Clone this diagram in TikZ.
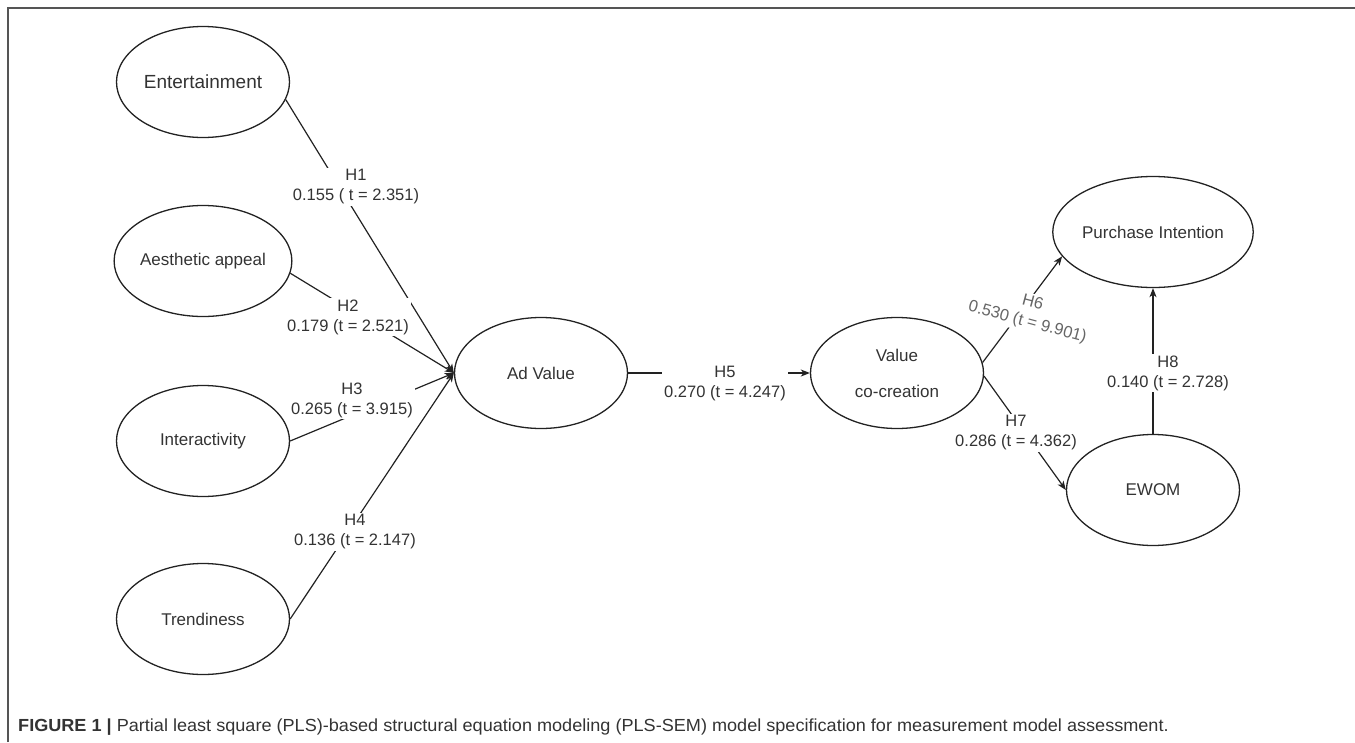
\documentclass[tikz,border=0pt]{standalone}
\usepackage{fontspec}
\setmainfont{Liberation Sans}
\usetikzlibrary{shapes.geometric,arrows.meta}
\definecolor{txt}{HTML}{333333}
\definecolor{ln}{HTML}{222222}
\definecolor{frame}{HTML}{555555}
\pgfdeclarelayer{bg}
\pgfsetlayers{bg,main}
\tikzset{
  construct/.style={ellipse, draw=ln, line width=1.3pt, minimum width=173pt, minimum height=111pt, inner sep=0pt, text=txt, font=\fontsize{17}{20}\selectfont},
  path/.style={draw=ln, line width=1.2pt},
  arr/.style={path, -{Stealth[length=9pt,width=7pt,inset=2.5pt]}},
  lab/.style={fill=white, align=center, inner sep=2pt, text=txt, font=\fontsize{16.5}{20}\selectfont},
}
\begin{document}
\begin{tikzpicture}[x=1pt,y=-1pt]
\useasboundingbox (0,0) rectangle (1355,742);
% frame
\draw[frame, line width=1.5pt] (8,742) -- (8,8) -- (1355,8);
% constructs
\node[construct, font=\fontsize{19}{22}\selectfont] (ent) at (203,82) {Entertainment};
\node[construct] (aes) at (203,261) {Aesthetic appeal};
\node[construct] (int) at (203,441) {Interactivity};
\node[construct] (tre) at (203,619) {Trendiness};
\node[construct] (adv) at (541,373) {Ad Value};
\node[construct, align=center, font=\fontsize{17}{36}\selectfont] (vcc) at (897,373) {Value\\co-creation};
\node[construct] (pi) at (1153,232) {Purchase Intention};
\node[construct] (ewom) at (1153,490) {EWOM};
\begin{pgfonlayer}{bg}
% paths
\draw[arr] (ent.-12) -- (adv.west);
\draw[arr] (aes.-8) -- (adv.west);
\draw[arr] (int.east) -- (adv.west);
\draw[arr] (tre.east) -- (adv.west);
\draw[arr] (adv.east) -- (vcc.west);
\draw[arr] (vcc.7) -- (pi.-165);
\draw[arr] (vcc.-2) -- (ewom.west);
\draw[arr] (ewom.north) -- (pi.south);
% labels
\node[lab] (l1) at (356,187) {H1\\0.155 ( t = 2.351)};
\node[lab] (l2) at (348,317) {H2\\0.179 (t = 2.521)};
\node[lab] (l3) at (352,400) {H3\\0.265 (t = 3.915)};
\node[lab] (l4) at (355,532) {H4\\0.136 (t = 2.147)};
\node[lab] (l5) at (725,384) {H5\\0.270 (t = 4.247)};
\node[lab, rotate=-15, text=black!60] (l6) at (1030,313) {H6\\0.530 (t = 9.901)};
\node[lab] (l7) at (1016,433) {H7\\0.286 (t = 4.362)};
\node[lab] (l8) at (1168,373) {H8\\0.140 (t = 2.728)};
\end{pgfonlayer}
% caption
\node[anchor=base west, inner sep=0pt, text=txt, font=\fontsize{17.5}{20}\selectfont] (cap) at (18,731) {\scalebox{1.034}[1]{\textbf{FIGURE 1 |} Partial least square (PLS)-based structural equation modeling (PLS-SEM) model specification for measurement model assessment.}};
\end{tikzpicture}
\end{document}
